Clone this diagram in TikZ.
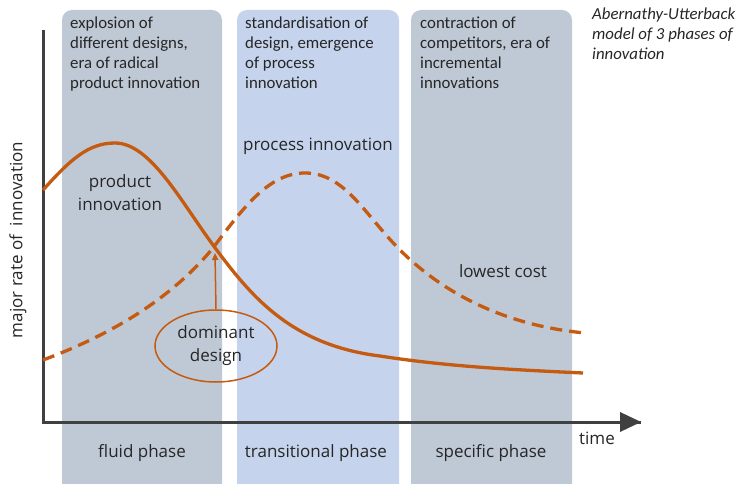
\documentclass[tikz,border=0pt]{standalone}
\usepackage{fontspec}
\setmainfont{Carlito}
\newfontfamily\lblfont{Open Sans}
\usetikzlibrary{arrows.meta,shapes.geometric}
\definecolor{boxgray}{RGB}{191,201,213}
\definecolor{boxblue}{RGB}{197,211,236}
\definecolor{curve}{RGB}{197,90,17}
\definecolor{axisc}{RGB}{64,64,64}
\definecolor{txt}{RGB}{38,38,38}
\begin{document}
\begin{tikzpicture}[x=1pt,y=-1pt,
  phase/.style={rounded corners=10pt},
  toptext/.style={anchor=north west,align=left,text=txt,font=\fontsize{16.8}{20}\selectfont,inner sep=0pt},
  lbl/.style={text=txt,font=\lblfont\fontsize{17}{23}\selectfont,align=center,inner sep=0pt},
  curveline/.style={curve,line width=3.3pt},
  dashline/.style={curveline,dash pattern=on 12pt off 7pt}]
\useasboundingbox (0,0) rectangle (736,484);
% phase boxes
\fill[boxgray,phase] (62,10) rectangle (222,494);
\fill[boxblue,phase] (237,10) rectangle (399,494);
\fill[boxgray,phase] (411,10) rectangle (572,494);
% top texts
\node[toptext] (t1) at (70,17) {explosion of\\different designs,\\era of radical\\product innovation};
\node[toptext] (t2) at (245,17) {standardisation of\\design, emergence\\of process\\innovation};
\node[toptext] (t3) at (420,17) {contraction of\\competitors, era of\\incremental\\innovations};
\node[toptext,font=\itshape\fontsize{16.8}{20}\selectfont] (t4) at (592,8) {Abernathy-Utterback\\model of 3 phases of\\innovation};
% axes
\coordinate (o) at (43,422);
\coordinate (ytop) at (43,30);
\coordinate (xend) at (641,422);
\draw[axisc,line width=3pt] (ytop) -- (o) -- (xend);
\fill[axisc] (641,422) -- (620,412) -- (620,432) -- cycle;
\node[lbl,rotate=90] (ylab) at (18,240) {major rate of~ innovation};
\node[lbl] (time) at (597,438) {time};
% curves
\draw[curveline] (43,190) .. controls (70,160) and (88,143) .. (115,143)
  .. controls (150,143) and (180,200) .. (213,245)
  .. controls (250,295) and (290,345) .. (380,356)
  .. controls (450,367) and (520,370) .. (583,373);
\draw[dashline] (43,360) .. controls (110,335) and (170,300) .. (213,248)
  .. controls (245,205) and (270,173) .. (305,173)
  .. controls (345,173) and (365,215) .. (400,250)
  .. controls (440,290) and (500,325) .. (585,333);
\coordinate (cross) at (215,253);
% labels
\node[lbl] (prod) at (120,193) {product\\innovation};
\node[lbl] (proc) at (318,146) {process innovation};
\node[lbl] (low) at (503,271) {lowest cost};
\node[lbl,ellipse,draw=curve,line width=1.5pt,minimum width=122pt,minimum height=72pt,inner sep=0pt] (dom) at (216,346) {dominant\\design};
\draw[curve,line width=1.5pt,-{Triangle[length=7pt,width=6pt]}] (dom.north) -- (cross);
% phase names
\node[lbl] (f1) at (142,453) {fluid phase};
\node[lbl] (f2) at (316,453) {transitional phase};
\node[lbl] (f3) at (491,453) {specific phase};
\end{tikzpicture}
\end{document}
